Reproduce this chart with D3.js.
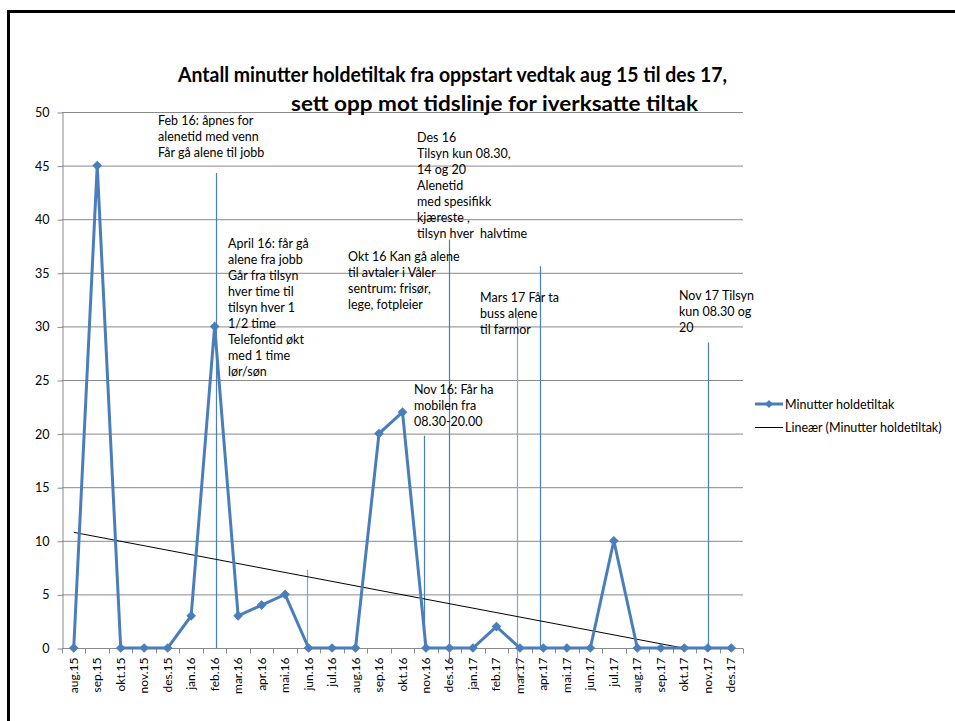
<!DOCTYPE html>
<html><head><meta charset="utf-8">
<script src="https://cdn.jsdelivr.net/npm/d3@7"></script>
<style>
html,body{margin:0;padding:0;background:#fff;}
svg{display:block;font-family:Lato,"Open Sans",sans-serif;}
</style></head>
<body>
<svg id="chart" width="955" height="721"></svg>
<script>
const categories = ["aug.15","sep.15","okt.15","nov.15","des.15","jan.16","feb.16","mar.16","apr.16","mai.16","jun.16","jul.16","aug.16","sep.16","okt.16","nov.16","des.16","jan.17","feb.17","mar.17","apr.17","mai.17","jun.17","jul.17","aug.17","sep.17","okt.17","nov.17","des.17"];
const minutter = [0,45,0,0,0,3,30,3,4,5,0,0,0,20,22,0,0,0,2,0,0,0,0,10,0,0,0,0,0];
const yTicks = [0,5,10,15,20,25,30,35,40,45,50];
const titleLines = ["Antall minutter holdetiltak fra oppstart vedtak aug 15 til des 17,","sett opp mot tidslinje for iverksatte tiltak"];
const seriesName = "Minutter holdetiltak";
const trendName = "Lineær (Minutter holdetiltak)";
const annotationTexts = [
  ["Feb 16: åpnes for","alenetid med venn","Får gå alene til jobb"],
  ["April 16: får gå","alene fra jobb","Går fra tilsyn","hver time til","tilsyn hver 1","1/2 time","Telefontid økt","med 1 time","lør/søn"],
  ["Okt 16 Kan gå alene","til avtaler i Våler","sentrum: frisør,","lege, fotpleier"],
  ["Des 16","Tilsyn kun 08.30,","14 og 20","Alenetid","med spesifikk","kjæreste ,","tilsyn hver  halvtime"],
  ["Nov 16: Får ha","mobilen fra","08.30-20.00"],
  ["Mars 17 Får ta","buss alene","til farmor"],
  ["Nov 17 Tilsyn","kun 08.30 og","20"]
];
// marker lines: category they belong to, top value, bottom value
const markerCats = ["feb.16","jun.16","nov.16","des.16","mar.17","apr.17","nov.17"];
const markerTop = [44.3,7.3,19.8,38.1,30.8,35.6,28.5];
const markerBottom = [0,0,0,-1.4,-3.0,0,0];

// ---- layout ----
const svg = d3.select("#chart");
const L = 62, R = 743, T = 112, B = 648;
const blue = "#4a7ebb", grid = "#898989";

const x = d3.scaleBand().domain(categories).range([L, R]);
const cx = c => x(c) + x.bandwidth()/2;
const y = d3.scaleLinear().domain([0,50]).range([B, T]);

// frame
svg.append("rect").attr("x",8.5).attr("y",11.5).attr("width",960).attr("height",720)
  .attr("fill","none").attr("stroke","#000").attr("stroke-width",3);

// gridlines
svg.append("g").selectAll("line").data(yTicks).join("line")
  .attr("x1",L).attr("x2",R).attr("y1",d=>y(d)+0.5).attr("y2",d=>y(d)+0.5)
  .attr("stroke",grid).attr("stroke-width",1);

// y axis
const yAxis = d3.axisLeft(y).tickValues(yTicks).tickSize(5).tickPadding(8).tickSizeOuter(0);
const gy = svg.append("g").attr("transform",`translate(${L+0.5},0.5)`).call(yAxis);
gy.select(".domain").attr("stroke",grid);
gy.selectAll(".tick line").attr("stroke",grid);
gy.selectAll(".tick text").attr("font-size",12.5).attr("fill","#000").attr("font-family","Lato,sans-serif");

// x axis: ticks between categories
const gx = svg.append("g").attr("transform",`translate(0,${B+0.5})`);
gx.append("line").attr("x1",L).attr("x2",R).attr("stroke",grid);
const bounds = categories.map(c=>x(c)).concat([R]);
gx.selectAll("line.tk").data(bounds).join("line").attr("class","tk")
  .attr("x1",d=>Math.round(d)+0.5).attr("x2",d=>Math.round(d)+0.5).attr("y1",0).attr("y2",5).attr("stroke",grid);
gx.selectAll("text").data(categories).join("text")
  .attr("transform",d=>`translate(${cx(d)+4},9) rotate(-90)`)
  .attr("text-anchor","end").attr("font-size",12).attr("fill","#000").text(d=>d);

// annotation lines
const mOffsets = [1,-2,-2,0,-3,-3,0];
const mColors = [blue,"#7fa6d6",blue,blue,"#7fa6d6",blue,blue];
svg.append("g").selectAll("line").data(markerCats).join("line")
  .attr("x1",(d,i)=>Math.round(cx(d)+mOffsets[i])+0.5).attr("x2",(d,i)=>Math.round(cx(d)+mOffsets[i])+0.5)
  .attr("y1",(d,i)=>y(markerTop[i])).attr("y2",(d,i)=>y(markerBottom[i]))
  .attr("stroke",(d,i)=>mColors[i]).attr("stroke-width",1.2);

// trendline (least squares on the series, clipped at 0)
const n = minutter.length;
const xs = d3.range(1,n+1);
const mx = d3.mean(xs), my = d3.mean(minutter);
const slope = d3.sum(xs,(v,i)=>(v-mx)*(minutter[i]-my))/d3.sum(xs,v=>(v-mx)*(v-mx));
const icpt = my - slope*mx;
const xIdx = d3.scaleLinear().domain([1,n]).range([cx(categories[0]), cx(categories[n-1])]);
const xZero = -icpt/slope;
svg.append("line")
  .attr("x1",xIdx(1)).attr("y1",y(icpt+slope))
  .attr("x2",xIdx(xZero)).attr("y2",y(0))
  .attr("stroke","#000").attr("stroke-width",1);

// series line
const line = d3.line().x((d,i)=>cx(categories[i])).y(d=>y(d));
svg.append("path").datum(minutter).attr("d",line)
  .attr("fill","none").attr("stroke",blue).attr("stroke-width",3).attr("stroke-linejoin","miter");
const diamond = d3.symbol().type(d3.symbolSquare).size(34);
svg.append("g").selectAll("path").data(minutter).join("path")
  .attr("d",diamond())
  .attr("transform",(d,i)=>`translate(${cx(categories[i])},${y(d)}) rotate(45)`)
  .attr("fill",blue).attr("stroke",blue).attr("stroke-width",1);

// annotation texts
const annPos = [[158,120],[228,243],[348,256],[417,137],[414,389],[480,297],[679,295]];
const ann = svg.append("g").attr("font-size",12.5).attr("fill","#000");
annotationTexts.forEach((lines,k)=>{
  const t = ann.append("text").attr("x",annPos[k][0]).attr("y",annPos[k][1]).attr("dominant-baseline","central");
  lines.forEach((s,j)=>t.append("tspan").attr("x",annPos[k][0]).attr("dy",j===0?0:16).attr("xml:space","preserve").text(s));
});

// title
svg.append("text").attr("x",178).attr("y",82)
  .attr("font-size",20).attr("font-weight","bold")
  .attr("textLength",549).attr("lengthAdjust","spacingAndGlyphs").text(titleLines[0]);
svg.append("text").attr("x",291).attr("y",111)
  .attr("font-size",20).attr("font-weight","bold")
  .attr("textLength",407).attr("lengthAdjust","spacingAndGlyphs").text(titleLines[1]);

// legend
const lg = svg.append("g");
lg.append("line").attr("x1",755).attr("x2",783).attr("y1",404).attr("y2",404).attr("stroke",blue).attr("stroke-width",3);
lg.append("path").attr("d",diamond()).attr("transform","translate(769,404) rotate(45)").attr("fill",blue);
lg.append("text").attr("x",785).attr("y",404).attr("dominant-baseline","central").attr("font-size",12.5).text(seriesName);
lg.append("line").attr("x1",755).attr("x2",783).attr("y1",427.5).attr("y2",427.5).attr("stroke","#000").attr("stroke-width",1);
lg.append("text").attr("x",785).attr("y",427).attr("dominant-baseline","central").attr("font-size",12.5).text(trendName);
</script>
</body></html>
